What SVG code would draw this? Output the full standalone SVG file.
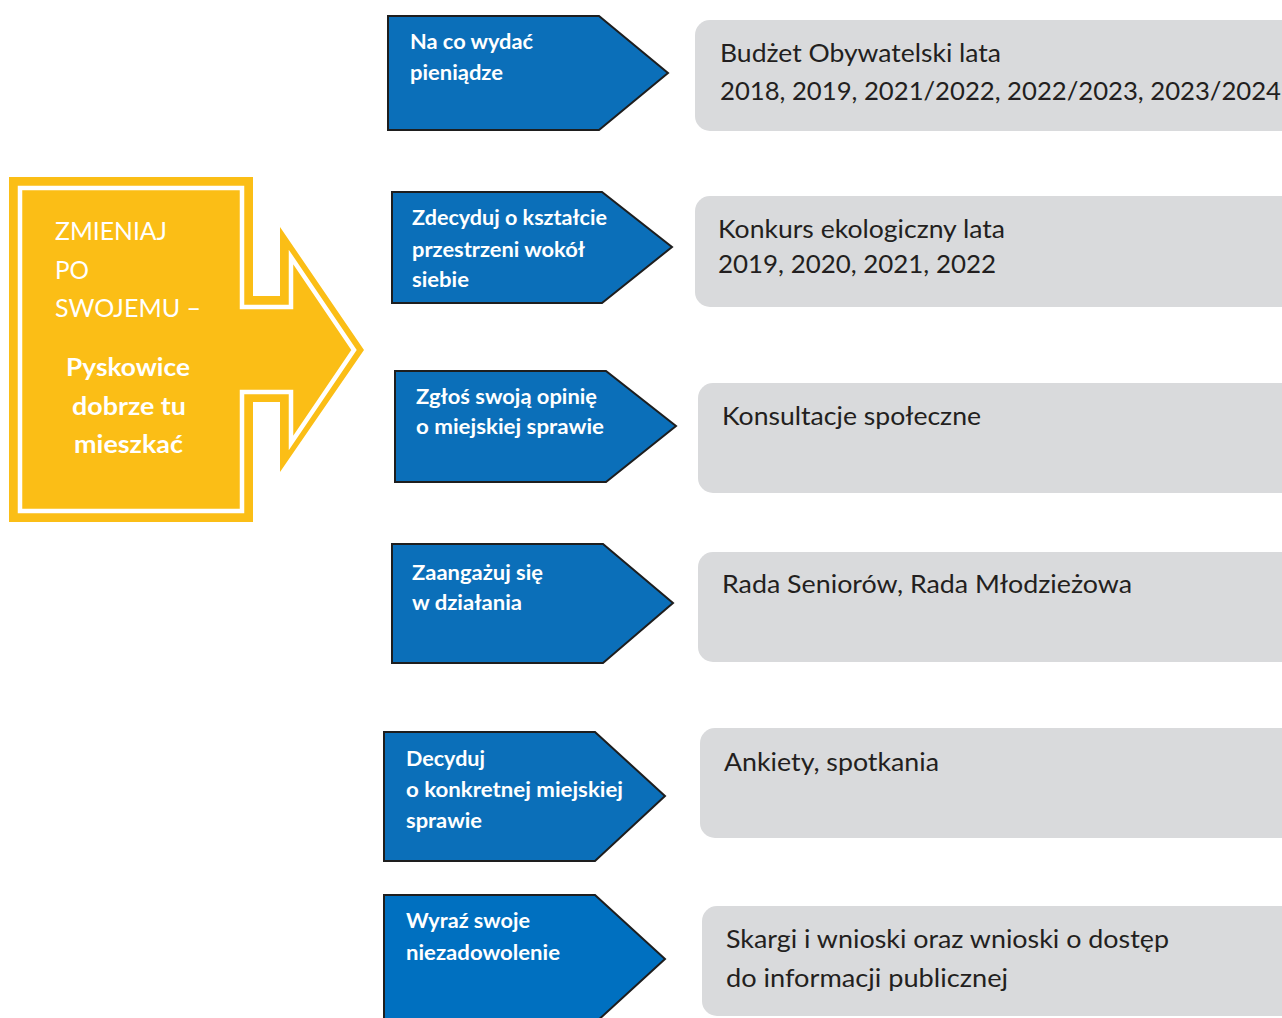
<svg xmlns="http://www.w3.org/2000/svg" width="1282" height="1018" viewBox="0 0 1282 1018">
<style>
.bl{stroke:#1e1e1e;stroke-width:2;stroke-linejoin:miter}
.b1{fill:#0b6fb9}
.b2{fill:#0070c0}
.gr{fill:#d9dadc}
.bt{font-family:Lato,"Open Sans",sans-serif;font-weight:700;font-size:20px;fill:#ffffff}
.gt{font-family:Lato,"Open Sans",sans-serif;font-size:25px;fill:#231f20}
.yt{font-family:Lato,"Open Sans",sans-serif;font-size:25px;fill:#ffffff}
.ytb{font-family:Lato,"Open Sans",sans-serif;font-weight:700;font-size:24px;fill:#ffffff}
</style>
<rect width="1282" height="1018" fill="#ffffff"/>
<g id="main">
<polygon points="9,177 253,177 253,296 280,296 280,227 364,350 280,472 280,402 253,402 253,522 9,522" fill="#fbbe16"/>
<polygon points="20,188 242,188 242,307 291,307 291,257 354,350 291,443 291,392 242,392 242,511 20,511" fill="none" stroke="#ffffff" stroke-width="4.5"/>
<text class="yt" x="55" y="240" textLength="112" lengthAdjust="spacingAndGlyphs">ZMIENIAJ</text>
<text class="yt" x="55" y="279" textLength="34" lengthAdjust="spacingAndGlyphs">PO</text>
<text class="yt" x="55" y="317" textLength="146" lengthAdjust="spacingAndGlyphs">SWOJEMU –</text>
<text class="ytb" x="66" y="376" textLength="124" lengthAdjust="spacingAndGlyphs">Pyskowice</text>
<text class="ytb" x="72" y="415" textLength="114" lengthAdjust="spacingAndGlyphs">dobrze tu</text>
<text class="ytb" x="74" y="453" textLength="109" lengthAdjust="spacingAndGlyphs">mieszkać</text>
</g>
<g id="connectors"></g>
<g id="n1">
<polygon class="bl b1" points="388,16 599,16 668,73 599,130 388,130"/>
<text class="bt" x="410" y="49" textLength="123" lengthAdjust="spacingAndGlyphs">Na co wydać</text>
<text class="bt" x="410" y="80" textLength="93" lengthAdjust="spacingAndGlyphs">pieniądze</text>
</g>
<g id="n2">
<polygon class="bl b1" points="392,192 602,192 672,247 602,303 392,303"/>
<text class="bt" x="412" y="225" textLength="195" lengthAdjust="spacingAndGlyphs">Zdecyduj o kształcie</text>
<text class="bt" x="412" y="257" textLength="173" lengthAdjust="spacingAndGlyphs">przestrzeni wokół</text>
<text class="bt" x="412" y="287" textLength="57" lengthAdjust="spacingAndGlyphs">siebie</text>
</g>
<g id="n3">
<polygon class="bl b1" points="395,371 606,371 676,426 606,482 395,482"/>
<text class="bt" x="416" y="404" textLength="181" lengthAdjust="spacingAndGlyphs">Zgłoś swoją opinię</text>
<text class="bt" x="416" y="434" textLength="188" lengthAdjust="spacingAndGlyphs">o miejskiej sprawie</text>
</g>
<g id="n4">
<polygon class="bl b1" points="392,544 603,544 673,603 603,663 392,663"/>
<text class="bt" x="412" y="580" textLength="131" lengthAdjust="spacingAndGlyphs">Zaangażuj się</text>
<text class="bt" x="412" y="610" textLength="110" lengthAdjust="spacingAndGlyphs">w działania</text>
</g>
<g id="n5">
<polygon class="bl b1" points="384,732 595,732 665,796 595,861 384,861"/>
<text class="bt" x="406" y="766" textLength="79" lengthAdjust="spacingAndGlyphs">Decyduj</text>
<text class="bt" x="406" y="797" textLength="217" lengthAdjust="spacingAndGlyphs">o konkretnej miejskiej</text>
<text class="bt" x="406" y="828" textLength="76" lengthAdjust="spacingAndGlyphs">sprawie</text>
</g>
<g id="n6">
<polygon class="bl b2" points="384,895 595,895 665,959 595,1023 384,1023"/>
<text class="bt" x="406" y="928" textLength="124" lengthAdjust="spacingAndGlyphs">Wyraź swoje</text>
<text class="bt" x="406" y="960" textLength="154" lengthAdjust="spacingAndGlyphs">niezadowolenie</text>
</g>
<g id="g1">
<rect class="gr" x="695" y="20" width="600" height="111" rx="15"/>
<text class="gt" x="720" y="62" textLength="281" lengthAdjust="spacingAndGlyphs">Budżet Obywatelski lata</text>
<text class="gt" x="720" y="100" textLength="561" lengthAdjust="spacingAndGlyphs">2018, 2019, 2021/2022, 2022/2023, 2023/2024</text>
</g>
<g id="g2">
<rect class="gr" x="695" y="196" width="600" height="111" rx="15"/>
<text class="gt" x="718" y="238" textLength="287" lengthAdjust="spacingAndGlyphs">Konkurs ekologiczny lata</text>
<text class="gt" x="718" y="273" textLength="278" lengthAdjust="spacingAndGlyphs">2019, 2020, 2021, 2022</text>
</g>
<g id="g3">
<rect class="gr" x="698" y="383" width="600" height="110" rx="15"/>
<text class="gt" x="722" y="425" textLength="259" lengthAdjust="spacingAndGlyphs">Konsultacje społeczne</text>
</g>
<g id="g4">
<rect class="gr" x="698" y="552" width="600" height="110" rx="15"/>
<text class="gt" x="722" y="593" textLength="410" lengthAdjust="spacingAndGlyphs">Rada Seniorów, Rada Młodzieżowa</text>
</g>
<g id="g5">
<rect class="gr" x="700" y="728" width="600" height="110" rx="15"/>
<text class="gt" x="724" y="771" textLength="215" lengthAdjust="spacingAndGlyphs">Ankiety, spotkania</text>
</g>
<g id="g6">
<rect class="gr" x="702" y="906" width="600" height="110" rx="15"/>
<text class="gt" x="726" y="948" textLength="443" lengthAdjust="spacingAndGlyphs">Skargi i wnioski oraz wnioski o dostęp</text>
<text class="gt" x="726" y="987" textLength="282" lengthAdjust="spacingAndGlyphs">do informacji publicznej</text>
</g>
</svg>
